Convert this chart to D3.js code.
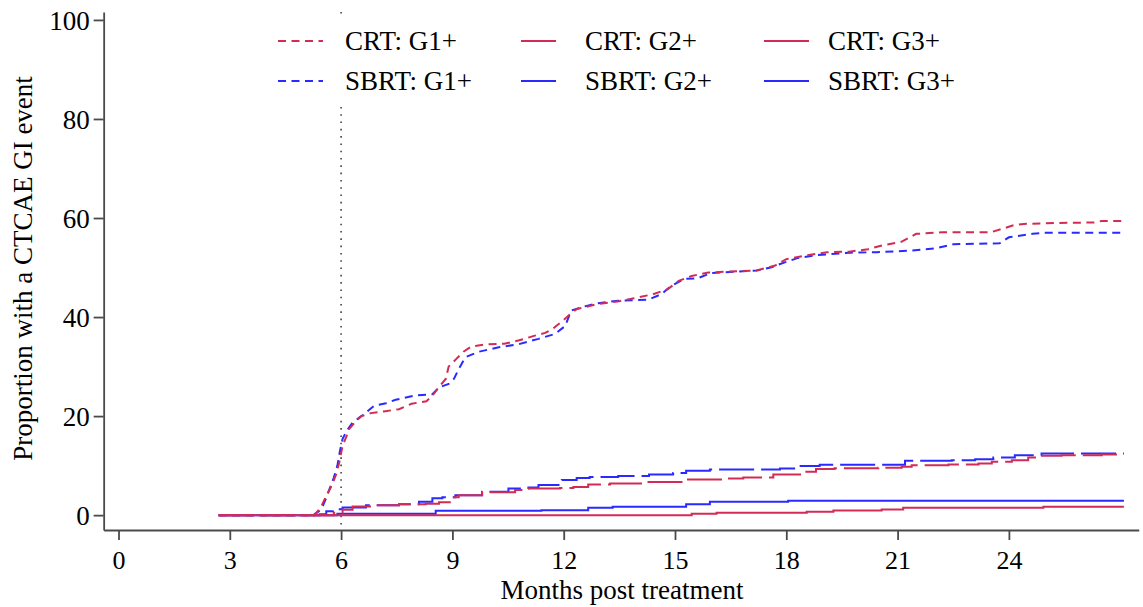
<!DOCTYPE html>
<html>
<head>
<meta charset="utf-8">
<script src="https://cdn.jsdelivr.net/npm/d3@7"></script>
<style>
body{margin:0;background:#fff;}
text{font-family:"Liberation Serif","Times New Roman",serif;fill:#000;}
</style>
</head>
<body>
<svg id="chart" width="1143" height="607"></svg>
<script>
// tick labels
var xTicks = [0,3,6,9,12,15,18,21,24];
var yTicks = [0,20,40,60,80,100];

// cumulative incidence curves, [months, percent]
var crtG1 = [[2.7,0],[5.28,0],[5.45,1.5],[5.6,3.9],[5.75,6],[5.87,8.3],[5.95,10.6],[6.04,14],[6.15,16],[6.22,17.4],[6.4,19],[6.55,20],[6.8,20.6],[7.2,21],[7.56,21.4],[7.9,22.5],[8.3,23],[8.46,24.1],[8.65,26],[8.82,27.5],[8.9,30],[9.1,31.5],[9.3,33],[9.5,34],[9.9,34.5],[10.4,34.6],[10.8,35.3],[11.2,36.2],[11.5,36.8],[11.7,37.6],[12.0,39.4],[12.2,40.8],[12.35,41.6],[12.9,42.6],[13.5,43.2],[13.9,43.8],[14.4,44.6],[14.8,45.6],[15.1,47.3],[15.45,48.3],[15.9,49],[16.5,49.2],[17.2,49.4],[17.7,50.4],[18.0,51.7],[18.5,52.4],[19.1,53.1],[19.7,53.2],[20.2,53.7],[20.6,54.5],[21.1,55.2],[21.5,56.8],[22.2,57.1],[23.5,57.1],[23.9,58.0],[24.1,58.5],[24.4,58.8],[25.3,59.0],[26.3,59.1],[26.5,59.4],[27.1,59.4]];
var sbrtG1 = [[2.7,0],[5.25,0],[5.4,0.8],[5.51,1.9],[5.6,3.5],[5.69,5.3],[5.8,7.5],[5.9,10],[5.97,13],[6.04,15.4],[6.15,17],[6.31,18.7],[6.49,19.7],[6.67,20.7],[6.89,22.1],[7.21,22.6],[7.47,23.3],[8.01,24.2],[8.46,24.4],[8.64,25.8],[8.9,26.5],[9.04,27.5],[9.17,29.5],[9.35,31.9],[9.71,33],[10.25,33.9],[10.78,34.5],[11.32,35.6],[11.77,36.6],[12.04,38.2],[12.2,41.3],[12.48,42],[12.93,42.8],[13.47,43.3],[14.27,43.5],[14.63,44.6],[14.9,46.3],[15.25,47.7],[15.6,47.8],[15.97,48.9],[17.2,49.4],[17.58,50],[17.94,51],[18.3,51.9],[18.83,52.5],[19.72,53.0],[20.44,53.1],[21.33,53.4],[22.05,53.9],[22.5,54.7],[23.75,54.9],[24.0,56.1],[24.64,56.8],[24.91,57.0],[27.1,57.0]];
var crtG2 = [[2.7,0],[5.69,0],[5.8,0.5],[6.04,1.1],[6.31,1.75],[6.94,2.0],[7.56,2.2],[8.28,2.3],[8.64,2.6],[9.0,3.6],[9.17,4.0],[9.8,4.6],[10.69,5.1],[11.05,5.4],[11.9,5.5],[12.26,5.7],[12.66,6.2],[13.25,6.4],[14.15,6.7],[15.3,7.2],[16.4,7.4],[16.84,7.6],[17.65,8.2],[18.46,8.75],[18.8,9.3],[19.3,9.45],[20.48,9.55],[21.11,9.75],[21.38,10.1],[22.37,10.25],[23.18,10.45],[23.54,10.8],[24.08,11.1],[24.52,11.65],[24.8,12.0],[25.42,12.1],[26.5,12.25],[27.1,12.25]];
var sbrtG2 = [[2.7,0],[5.3,0],[5.42,0.2],[5.6,0.8],[5.78,1.2],[6.04,1.55],[6.67,2.0],[7.56,2.2],[8.1,2.7],[8.46,3.4],[8.73,3.6],[9.08,4.0],[9.8,4.7],[10.51,5.4],[11.05,5.6],[11.32,6.1],[11.95,7.1],[12.35,7.5],[12.7,7.7],[13.47,7.9],[14.3,8.2],[14.95,8.5],[15.3,8.95],[15.94,9.2],[17.83,9.4],[18.28,9.9],[18.9,10.2],[21.2,11.0],[22.46,11.1],[23.09,11.3],[23.58,11.65],[24.16,12.1],[24.88,12.45],[27.1,12.45]];
var crtG3 = [[2.7,0],[15.45,0.3],[16.12,0.5],[18.55,0.7],[19.27,0.95],[20.57,1.15],[21.15,1.5],[24.93,1.7],[27.1,1.7]];
var sbrtG3 = [[2.7,0],[5.9,0.3],[8.55,0.9],[11.4,1.0],[12.66,1.5],[13.32,1.7],[15.3,2.2],[15.94,2.7],[18.05,2.9],[27.1,2.9]];

var RED = "#d22b55", BLUE = "#2a2aff";
var SHORT = "8,5.5", LONG = "35,7";

// blue first so red sits on top at the zero line
var series = [
    {name:"SBRT: G1+", data:sbrtG1, color:BLUE, dash:SHORT, curve:d3.curveLinear},
    {name:"SBRT: G2+", data:sbrtG2, color:BLUE, dash:LONG, curve:d3.curveStepAfter},
    {name:"SBRT: G3+", data:sbrtG3, color:BLUE, dash:null, curve:d3.curveStepAfter},
    {name:"CRT: G1+", data:crtG1, color:RED, dash:SHORT, curve:d3.curveLinear},
    {name:"CRT: G2+", data:crtG2, color:RED, dash:LONG, curve:d3.curveStepAfter},
    {name:"CRT: G3+", data:crtG3, color:RED, dash:null, curve:d3.curveStepAfter}
];

var svg = d3.select("#chart");
var axisColor = "#4a4a4a";

var x = d3.scaleLinear().domain([-0.4, 27.5]).range([103.66, 1138.75]);
var y = d3.scaleLinear().domain([-3, 101.6]).range([530, 12]);

// axes
var gx = svg.append("g")
    .attr("transform","translate(0,530)")
    .call(d3.axisBottom(x).tickValues(xTicks).tickSize(10).tickSizeOuter(0));
var gy = svg.append("g")
    .attr("transform","translate(103.66,0)")
    .call(d3.axisLeft(y).tickValues(yTicks).tickSize(10).tickSizeOuter(0).tickPadding(4));

[gx, gy].forEach(function(g){
    g.select(".domain").attr("stroke",axisColor).attr("stroke-width",1.8);
    g.selectAll(".tick line").attr("stroke",axisColor).attr("stroke-width",1.8);
    g.selectAll(".tick text").attr("fill","#000")
	.style("font-family","'Liberation Serif', serif").style("font-size","27px");
});
gx.selectAll(".tick text").attr("y",39).attr("dy",0).style("font-size","26px");
gy.selectAll(".tick text").attr("dy","0.34em");

// vertical reference line at 6 months
svg.append("line")
    .attr("x1",x(6)).attr("x2",x(6))
    .attr("y1",y(101.6)).attr("y2",y(-3))
    .attr("stroke","#444")
    .attr("stroke-width",1.6)
    .attr("stroke-dasharray","1.6,5.7");

// curves
var line = d3.line().x(d=>x(d[0])).y(d=>y(d[1]));
svg.selectAll(".curve")
    .data(series)
    .enter()
    .append("path")
    .attr("class","curve")
    .attr("fill","none")
    .attr("stroke",d=>d.color)
    .attr("stroke-width",2)
    .attr("stroke-dasharray",d=>d.dash)
    .attr("d",function(d){ return line.curve(d.curve)(d.data); });

// legend on white box
svg.append("rect")
    .attr("x",262).attr("y",17).attr("width",723).attr("height",88)
    .attr("fill","#fff");

var legendOrder = ["CRT: G1+","CRT: G2+","CRT: G3+","SBRT: G1+","SBRT: G2+","SBRT: G3+"];
var colX = [278, 521, 764], textX = [345, 585, 828], rowY = [41, 81];
var sampleLen = [45, 37, 45];

legendOrder.forEach(function(name, i){
    var s = series.find(d=>d.name==name);
    var c = i % 3, r = Math.floor(i / 3);
    svg.append("line")
	.attr("x1",colX[c]).attr("x2",colX[c]+sampleLen[c])
	.attr("y1",rowY[r]).attr("y2",rowY[r])
	.attr("stroke",s.color)
	.attr("stroke-width",2)
	.attr("stroke-dasharray",s.dash);
    svg.append("text")
	.attr("x",textX[c]).attr("y",rowY[r]+9)
	.style("font-size","27px")
	.text(name);
});

// axis titles
svg.append("text")
    .attr("x",622).attr("y",599)
    .attr("text-anchor","middle")
    .style("font-size","27px")
    .text("Months post treatment");

svg.append("text")
    .attr("transform","translate(32,268.5) rotate(-90)")
    .attr("text-anchor","middle")
    .style("font-size","27px")
    .text("Proportion with a CTCAE GI event");
</script>
</body>
</html>
